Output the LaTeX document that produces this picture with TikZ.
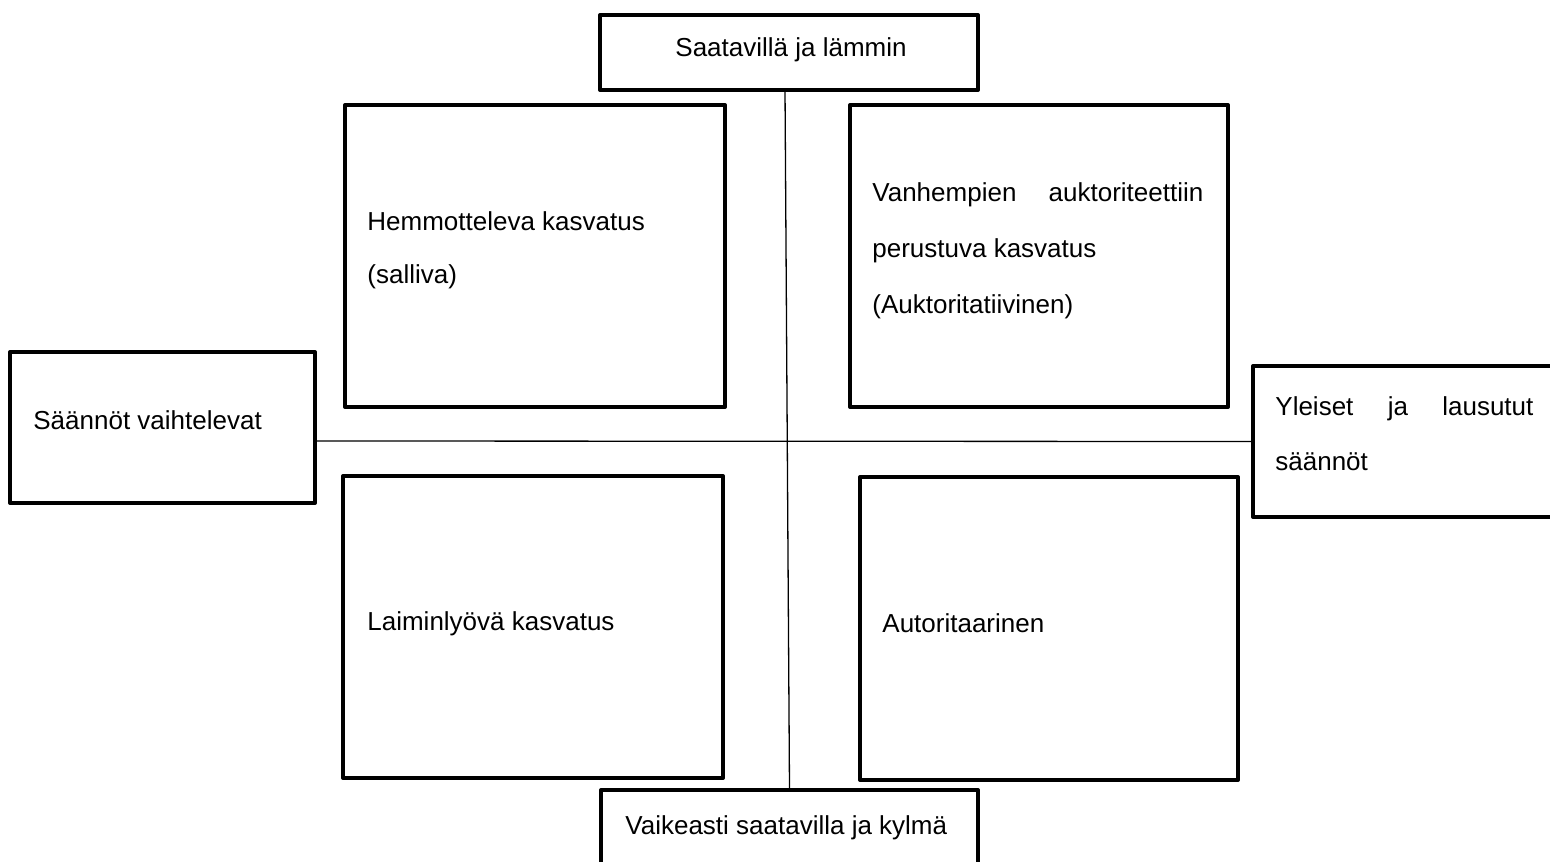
\documentclass[tikz,border=0pt]{standalone}
\usepackage{fontspec}
\setmainfont{Liberation Sans}
\begin{document}
\begin{tikzpicture}[x=0.5pt,y=-0.5pt,
  box/.style={draw, line width=2pt, line join=round, inner sep=0pt, outer sep=0pt, anchor=north west},
  lbl/.style={inner sep=0pt, anchor=base west, font=\fontsize{13pt}{27.5pt}\selectfont},
  conn/.style={line width=0.65pt}]
\useasboundingbox (0,0) rectangle (1550,861);
\clip (0,0) rectangle (1550,861);
% boxes
\node[box, minimum width=189pt, minimum height=37.5pt] (top) at (600,15) {};
\node[box, minimum width=190pt, minimum height=151pt] (tl) at (345,105) {};
\node[box, minimum width=189pt, minimum height=151pt] (tr) at (850,105) {};
\node[box, minimum width=152.5pt, minimum height=75.5pt] (lft) at (10,352) {};
\node[box, minimum width=155pt, minimum height=75.5pt] (rgt) at (1253,366) {};
\node[box, minimum width=190pt, minimum height=151pt] (bl) at (343,476) {};
\node[box, minimum width=189pt, minimum height=151.5pt] (br) at (860,477) {};
\node[box, minimum width=188.5pt, minimum height=45pt] (bot) at (601,790) {};
% connectors
\draw[conn] ([xshift=-2pt]top.south) -- (bot.north);
\draw[conn] ([yshift=-6.75pt]lft.east) -- (rgt.west);
% labels
\node[lbl] (t1) at (675,57) {Saatavillä ja lämmin};
\node[lbl] (t2) at (625,834) {Vaikeasti saatavilla ja kylmä};
\node[lbl] (t3) at (33,429) {Säännöt vaihtelevat};
\node[lbl] (t4a) at (1275,415) {\makebox[129pt][s]{Yleiset ja lausutut}};
\node[lbl] (t4b) at (1275,470) {säännöt};
\node[lbl] (t5a) at (367,230) {Hemmotteleva kasvatus};
\node[lbl] (t5b) at (367,283) {(salliva)};
\node[lbl] (t6a) at (872,202) {\makebox[165.5pt][s]{Vanhempien auktoriteettiin}};
\node[lbl] (t6b) at (872,257) {perustuva kasvatus};
\node[lbl] (t6c) at (872,313) {(Auktoritatiivinen)};
\node[lbl] (t7) at (367,630) {Laiminlyövä kasvatus};
\node[lbl] (t8) at (882,632) {Autoritaarinen};
\end{tikzpicture}
\end{document}
